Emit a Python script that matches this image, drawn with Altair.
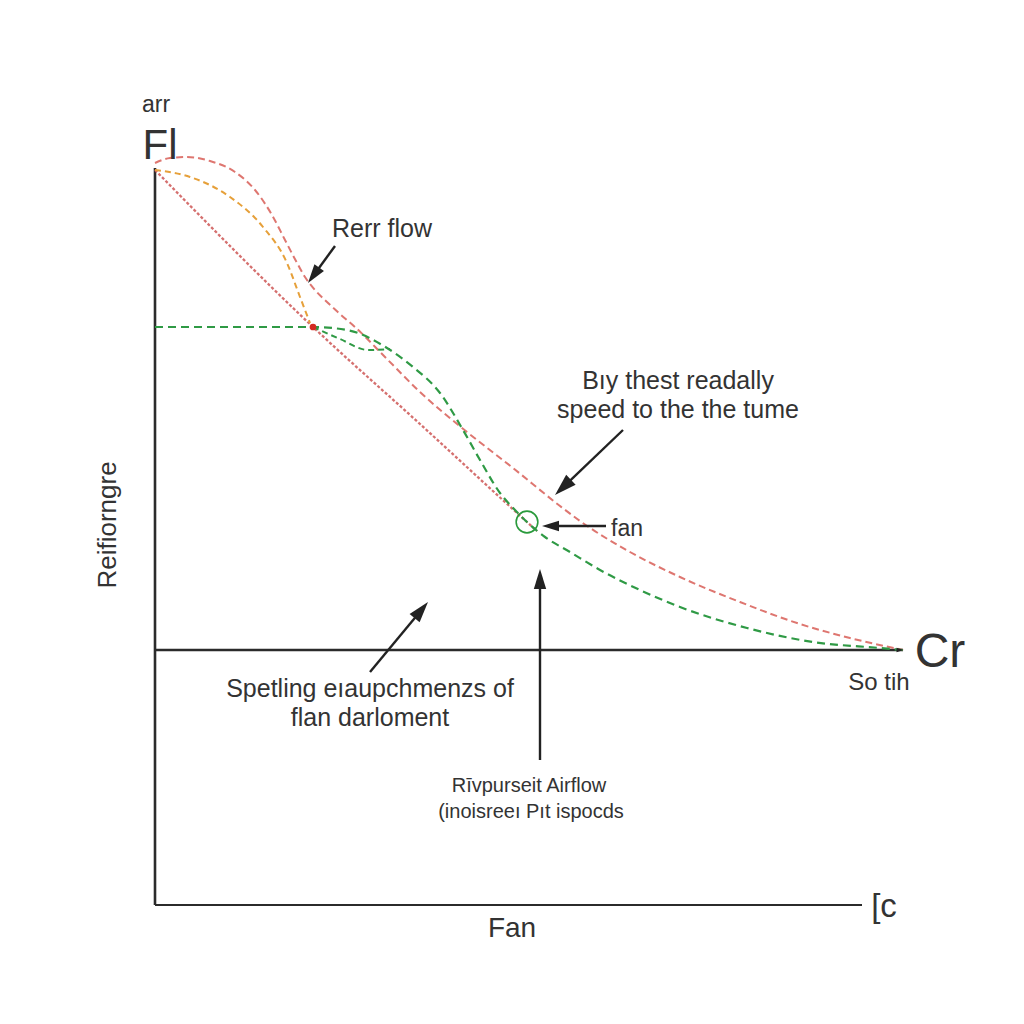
import math
import altair as alt
import pandas as pd

# ---- curve points (chart units = pixels of the 1024 canvas) ----
red_bump_x = [155, 170, 187, 210, 235, 255, 272, 285, 296, 305, 315, 327, 340, 355, 385, 420, 467, 513, 560, 580, 630, 680, 740, 800, 850, 903]
red_bump_y = [163, 158, 157, 161, 172, 190, 215, 240, 261, 277, 290, 302, 314, 327, 357, 392, 432, 468, 506, 521, 552, 577, 602, 624, 638, 650]

red_straight_x = [155, 313, 420, 527, 537]
red_straight_y = [170, 327, 424, 522, 531]

orange_x = [155, 190, 230, 263, 287, 300, 310]
orange_y = [170, 177, 197, 227, 263, 297, 323]

green_x = [155, 313, 347, 387, 413, 440, 463, 480, 500, 515, 527, 545, 570, 600, 640, 680, 747, 813, 880, 903]
green_y = [327, 327, 330, 348, 367, 393, 430, 460, 493, 510, 522, 537, 552, 570, 590, 607, 628, 642, 648, 650]

green_loop_x = [313, 340, 368, 390]
green_loop_y = [327, 339, 350, 349]

# ---- axis lines ----
axis_x1 = [155, 155, 155]
axis_y1 = [168, 905, 650]
axis_x2 = [155, 862, 903]
axis_y2 = [905, 905, 650]

# ---- markers ----
dot_x, dot_y = [313], [327]
ring_x, ring_y = [527], [522]

# ---- arrows: tail -> tip ----
arrow_tail_x = [335, 623, 606, 540, 370]
arrow_tail_y = [246, 430, 526, 760, 672]
arrow_tip_x = [308, 555, 542, 540, 428]
arrow_tip_y = [283, 495, 526, 569, 602]
arrow_head = [19, 22, 17, 20, 21]

# ---- labels ----
label_text = ["arr", "Fl", "Rerr flow", "Bıy thest readally", "speed to the the tume", "fan",
              "Cr", "So tih", "Spetling eıaupchmenzs of", "flan darloment",
              "Rīvpurseit Airflow", "(inoisreeı Pıt ispocds", "Fan", "[c", "Reifiorngre"]
label_x = [156, 160, 382, 678, 678, 627, 940, 879, 370, 370, 529, 531, 512, 884, 108]
label_y = [105, 146, 229, 381, 410, 529, 653, 683, 689, 718, 786, 812, 929, 907, 525]
label_size = [23, 42, 25, 25, 25, 23, 48, 24, 25, 25, 20, 20, 28, 33, 26]
label_angle = [0, 0, 0, 0, 0, 0, 0, 0, 0, 0, 0, 0, 0, 0, 270]

XS = alt.Scale(domain=[0, 1024], nice=False, zero=False)
YS = alt.Scale(domain=[0, 1024], nice=False, zero=False, reverse=True)


def curve(xs, ys, color, dash, width=2.0, opacity=1.0):
    df = pd.DataFrame({"i": range(len(xs)), "x": xs, "y": ys})
    return alt.Chart(df).mark_line(
        color=color, strokeDash=dash, strokeWidth=width, opacity=opacity, interpolate="monotone"
    ).encode(
        x=alt.X("x:Q", scale=XS, axis=None),
        y=alt.Y("y:Q", scale=YS, axis=None),
        order="i:Q",
    )


axes_df = pd.DataFrame({"x": axis_x1, "y": axis_y1, "x2": axis_x2, "y2": axis_y2, "w": [2.6, 2.2, 2.4]})
axes = alt.Chart(axes_df).mark_rule(color="#2b2b2b").encode(
    x=alt.X("x:Q", scale=XS, axis=None), y=alt.Y("y:Q", scale=YS, axis=None),
    x2="x2:Q", y2="y2:Q", strokeWidth=alt.StrokeWidth("w:Q", scale=None),
)

# arrows
shaft_rows, head_rows = [], []
for tx, ty, px, py, L in zip(arrow_tail_x, arrow_tail_y, arrow_tip_x, arrow_tip_y, arrow_head):
    dx, dy = px - tx, py - ty
    n = math.hypot(dx, dy)
    ux, uy = dx / n, dy / n
    shaft_rows.append({"x": tx, "y": ty, "x2": px - ux * L * 0.8, "y2": py - uy * L * 0.8})
    ang = math.degrees(math.atan2(dx, -dy)) % 360
    head_rows.append({"x": px - ux * L / 2, "y": py - uy * L / 2, "ang": ang, "s": L * L})
# small head at the end of the middle axis line
head_rows.append({"x": axis_x2[2] - 3, "y": axis_y2[2], "ang": 90.0, "s": 49})

shafts = alt.Chart(pd.DataFrame(shaft_rows)).mark_rule(color="#222222", strokeWidth=2.4).encode(
    x=alt.X("x:Q", scale=XS, axis=None), y=alt.Y("y:Q", scale=YS, axis=None), x2="x2:Q", y2="y2:Q"
)
heads = alt.Chart(pd.DataFrame(head_rows)).mark_point(
    shape="M0,-1L0.62,1L-0.62,1Z", filled=True, color="#222222", opacity=1
).encode(
    x=alt.X("x:Q", scale=XS, axis=None), y=alt.Y("y:Q", scale=YS, axis=None),
    angle=alt.Angle("ang:Q", scale=None), size=alt.Size("s:Q", scale=None),
)

dot = alt.Chart(pd.DataFrame({"x": dot_x, "y": dot_y})).mark_point(
    shape="circle", filled=True, color="#d42a20", size=45, opacity=1
).encode(x=alt.X("x:Q", scale=XS, axis=None), y=alt.Y("y:Q", scale=YS, axis=None))

ring = alt.Chart(pd.DataFrame({"x": ring_x, "y": ring_y})).mark_point(
    shape="circle", filled=False, color="#2a9a3c", size=470, strokeWidth=1.6, opacity=1
).encode(x=alt.X("x:Q", scale=XS, axis=None), y=alt.Y("y:Q", scale=YS, axis=None))

labels = alt.Chart(pd.DataFrame({
    "t": label_text, "x": label_x, "y": label_y, "s": label_size, "a": label_angle
})).mark_text(font="Liberation Sans", color="#333333", align="center", baseline="middle").encode(
    x=alt.X("x:Q", scale=XS, axis=None), y=alt.Y("y:Q", scale=YS, axis=None),
    text="t:N", size=alt.Size("s:Q", scale=None), angle=alt.Angle("a:Q", scale=None),
)

chart = alt.layer(
    axes,
    curve(red_straight_x, red_straight_y, "#d0605f", [3, 2], 2.3, 0.9),
    curve(orange_x, orange_y, "#e6a03a", [6, 4], 2.0),
    curve(red_bump_x, red_bump_y, "#dc6f68", [7, 4], 2.0, 0.95),
    curve(green_x, green_y, "#2f9a45", [8, 5], 2.2),
    curve(green_loop_x, green_loop_y, "#2f9a45", [6, 4], 2.0),
    shafts, heads, dot, ring, labels,
).properties(
    width=1024, height=1024, padding=0, autosize=alt.AutoSizeParams(type="none"), background="white"
).configure_view(stroke=None)

chart.save("out.html", embed_options={"renderer": "svg", "actions": False})
